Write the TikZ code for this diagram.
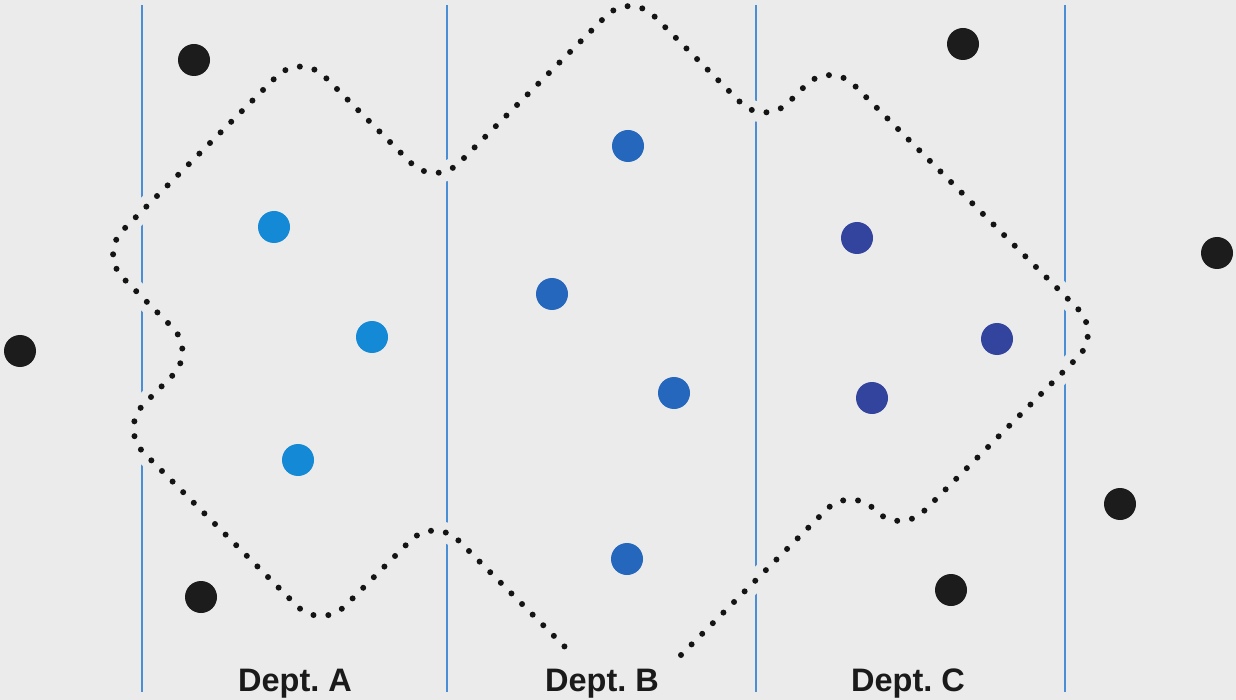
\documentclass[tikz,border=0pt]{standalone}
\usepackage{fontspec}
\setmainfont{Liberation Sans}
\definecolor{bgcol}{HTML}{EBEBEB}
\definecolor{linecol}{HTML}{4A8FD6}
\definecolor{dotcol}{HTML}{141414}
\definecolor{blackdot}{HTML}{1C1C1C}
\definecolor{acol}{HTML}{148AD6}
\definecolor{bcol}{HTML}{2467BD}
\definecolor{ccol}{HTML}{33449E}
\definecolor{labelcol}{HTML}{1A1A1A}
\newcommand\deptoutline{(681,655) -- (850.5,485.5) -- (900,535) -- (1102,333) -- (830,61) -- (764.5,126.5) -- (630,-8) -- (435,187) -- (300.5,52.5) -- (99,254) -- (196.5,351.5) -- (119.5,428.5) -- (321,630) -- (434.5,516.5) -- (565,647)}
\begin{document}
\begin{tikzpicture}[x=1pt,y=-1pt,
  sep/.style={draw=linecol, line width=2pt},
  halo/.style={draw=bgcol, line width=20pt, rounded corners=34pt},
  boundary/.style={draw=dotcol, line width=6pt, line cap=round, dash pattern=on 0pt off 15pt, rounded corners=34pt},
  pt/.style={circle, minimum size=32pt, inner sep=0pt, fill=#1},
  lbl/.style={font=\fontsize{32.5}{38}\selectfont\bfseries, text=labelcol, anchor=base}]
\fill[bgcol] (0,0) rectangle (1236,700);
\useasboundingbox (0,0) rectangle (1236,700);
% separators
\coordinate (s1t) at (142,5);  \coordinate (s1b) at (142,692);
\coordinate (s2t) at (447,5);  \coordinate (s2b) at (447,692);
\coordinate (s3t) at (756,5);  \coordinate (s3b) at (756,692);
\coordinate (s4t) at (1065,5); \coordinate (s4b) at (1065,692);
\draw[sep] (s1t) -- (s1b);
\draw[sep] (s2t) -- (s2b);
\draw[sep] (s3t) -- (s3b);
\draw[sep] (s4t) -- (s4b);
% dotted boundary
\path[halo] \deptoutline;
\path[boundary] \deptoutline;
% outside points
\node[pt=blackdot] (k1) at (194,60) {};
\node[pt=blackdot] (k2) at (963,44) {};
\node[pt=blackdot] (k3) at (1217,253) {};
\node[pt=blackdot] (k4) at (20,351) {};
\node[pt=blackdot] (k5) at (1120,504) {};
\node[pt=blackdot] (k6) at (201,597) {};
\node[pt=blackdot] (k7) at (951,590) {};
% Dept A
\node[pt=acol] (a1) at (274,227) {};
\node[pt=acol] (a2) at (372,337) {};
\node[pt=acol] (a3) at (298,460) {};
% Dept B
\node[pt=bcol] (b1) at (628,146) {};
\node[pt=bcol] (b2) at (552,294) {};
\node[pt=bcol] (b3) at (674,393) {};
\node[pt=bcol] (b4) at (627,559) {};
% Dept C
\node[pt=ccol] (c1) at (857,238) {};
\node[pt=ccol] (c2) at (997,339) {};
\node[pt=ccol] (c3) at (872,398) {};
% labels
\node[lbl] (la) at (295,691) {Dept.\ A};
\node[lbl] (lb) at (602,691) {Dept.\ B};
\node[lbl] (lc) at (908,691) {Dept.\ C};
\end{tikzpicture}
\end{document}
